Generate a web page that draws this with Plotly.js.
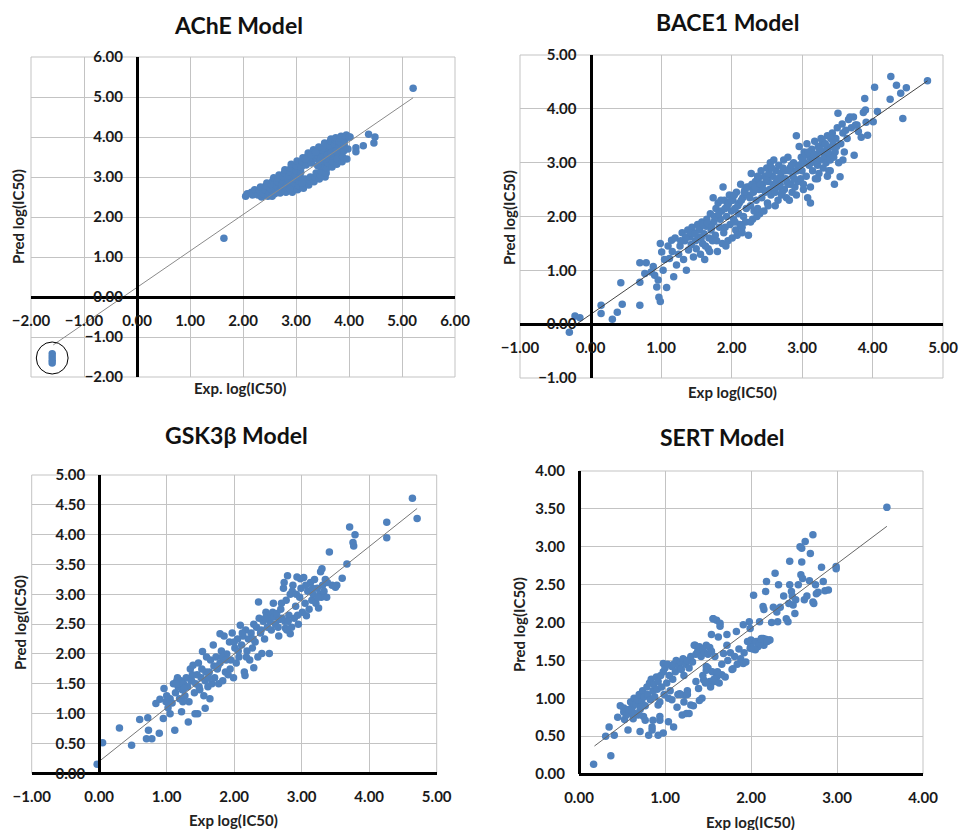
<!DOCTYPE html>
<html><head><meta charset="utf-8">
<script src="https://cdn.plot.ly/plotly-3.0.1.min.js"></script>
<style>html,body{margin:0;padding:0;background:#fff;}#chart{width:960px;height:830px;}</style>
</head><body><div id="chart"></div>
<script>
// ---------------- data ----------------
const acheExp = [
5.21, 1.64, -1.60, -1.60, -1.60, -1.60, 4.37, 4.49, 4.47, 4.27,
4.13, 4.13, 4.02, 3.95, 2.05, 2.08, 2.16, 2.18, 2.22, 2.28,
2.31, 2.33, 2.35, 2.38, 2.41, 2.43, 2.45, 2.47, 2.50, 2.52,
2.54, 2.56, 2.58, 2.55, 2.60, 2.62, 2.64, 2.65, 2.67, 2.68,
2.70, 2.72, 2.73, 2.75, 2.76, 2.78, 2.79, 2.81, 2.83, 2.84,
2.86, 2.87, 2.89, 2.90, 2.91, 2.93, 2.94, 2.96, 2.97, 2.98,
3.00, 3.01, 3.02, 3.03, 3.05, 3.06, 3.08, 3.09, 3.10, 3.12,
3.13, 3.14, 3.16, 3.17, 3.19, 3.20, 3.22, 3.23, 3.24, 3.26,
3.27, 3.29, 3.30, 3.32, 3.33, 3.34, 3.36, 3.38, 3.39, 3.40,
3.42, 3.43, 3.44, 3.46, 3.47, 3.49, 3.50, 3.52, 3.53, 3.54,
3.55, 3.57, 3.58, 3.60, 3.61, 3.62, 3.64, 3.65, 3.66, 3.68,
3.69, 3.70, 3.72, 3.73, 3.74, 3.75, 3.77, 3.78, 3.80, 3.81,
3.82, 3.84, 3.85, 3.87, 3.88, 3.90, 3.91, 3.92, 3.94, 3.96,
3.98, 4.00, 2.66, 2.88, 3.11, 3.18, 3.28, 3.37, 3.48, 3.56,
3.63, 3.71, 3.41, 3.45, 3.51, 3.59, 3.66, 3.76];
const achePred = [
5.22, 1.47, -1.42, -1.50, -1.58, -1.65, 4.07, 4.00, 3.85, 3.78,
3.73, 3.63, 4.00, 4.05, 2.52, 2.58, 2.62, 2.55, 2.68, 2.55,
2.66, 2.75, 2.50, 2.58, 2.68, 2.78, 2.85, 2.52, 2.60, 2.70,
2.80, 2.90, 2.98, 2.52, 2.58, 2.68, 2.78, 2.88, 2.97, 3.05,
2.60, 2.70, 2.80, 2.90, 3.00, 3.10, 3.18, 2.62, 2.72, 2.82,
2.92, 3.02, 3.12, 3.22, 3.32, 2.62, 2.72, 2.82, 2.95, 3.05,
3.15, 3.28, 3.40, 2.68, 2.78, 2.90, 3.00, 3.12, 3.25, 3.38,
3.48, 2.72, 2.85, 2.95, 3.30, 3.42, 3.52, 3.60, 2.80, 2.90,
3.00, 3.35, 3.48, 3.58, 3.68, 2.88, 3.00, 3.10, 3.45, 3.55,
3.65, 3.75, 2.95, 3.05, 3.15, 3.28, 3.40, 3.60, 3.72, 3.85,
3.00, 3.10, 3.22, 3.35, 3.50, 3.65, 3.78, 3.90, 3.95, 3.25,
3.38, 3.52, 3.68, 3.82, 3.92, 3.98, 3.32, 3.45, 3.60, 3.75,
3.88, 3.97, 4.02, 3.38, 3.50, 3.65, 3.80, 3.92, 4.02, 3.45,
3.70, 4.00, 2.62, 2.70, 2.85, 3.45, 3.55, 3.62, 3.50, 3.45,
3.58, 3.62, 3.28, 3.40, 3.50, 3.55, 3.60, 3.65];
const acheFitX = [-1.58, 5.21];
const acheFitCoef = [0.91, 0.24];

const baceExp = [
-0.30, -0.22, -0.15, 0.15, 0.15, 0.31, 0.38, 0.43, 0.45, 0.70,
0.70, 0.70, 0.79, 0.77, 0.86, 0.89, 0.91, 0.96, 0.94, 0.97,
0.99, 0.99, 1.01, 1.03, 1.08, 1.18, 1.12, 1.15, 1.20, 1.22,
1.25, 1.27, 1.30, 1.32, 1.34, 1.36, 1.38, 1.39, 1.41, 1.43,
1.44, 1.46, 1.47, 1.49, 1.50, 1.52, 1.53, 1.55, 1.56, 1.58,
1.59, 1.61, 1.62, 1.64, 1.65, 1.67, 1.68, 1.70, 1.71, 1.73,
1.74, 1.75, 1.77, 1.78, 1.80, 1.81, 1.83, 1.84, 1.86, 1.87,
1.88, 1.89, 1.90, 1.92, 1.93, 1.94, 1.95, 1.97, 1.98, 2.00,
2.01, 2.02, 2.03, 2.05, 2.06, 2.07, 2.08, 2.10, 2.11, 2.12,
2.13, 2.15, 2.16, 2.17, 2.19, 2.20, 2.21, 2.23, 2.24, 2.25,
2.27, 2.28, 2.30, 2.31, 2.32, 2.34, 2.35, 2.36, 2.38, 2.39,
2.40, 2.42, 2.43, 2.44, 2.46, 2.47, 2.48, 2.50, 2.51, 2.52,
2.54, 2.55, 2.56, 2.58, 2.59, 2.60, 2.62, 2.63, 2.64, 2.66,
2.67, 2.68, 2.70, 2.71, 2.72, 2.74, 2.75, 2.76, 2.78, 2.79,
2.80, 2.82, 2.83, 2.84, 2.86, 2.87, 2.88, 2.90, 2.91, 2.92,
2.94, 2.95, 2.96, 2.98, 2.99, 3.00, 3.02, 3.03, 3.04, 3.06,
3.07, 3.08, 3.10, 3.11, 3.12, 3.14, 3.15, 3.16, 3.18, 3.19,
3.20, 3.22, 3.23, 3.24, 3.26, 3.27, 3.28, 3.30, 3.31, 3.32,
3.34, 3.35, 3.36, 3.38, 3.39, 3.40, 3.42, 3.43, 3.44, 3.46,
3.47, 3.48, 3.50, 3.51, 3.52, 3.54, 3.55, 3.57, 3.58, 3.60,
3.62, 3.64, 3.66, 3.68, 3.70, 3.73, 3.74, 3.76, 3.78, 3.80,
3.84, 3.87, 3.89, 3.90, 3.91, 3.93, 4.01, 4.03, 4.07, 4.25,
4.26, 4.34, 4.40, 4.43, 4.48, 4.78, 1.05, 1.10, 1.16, 1.28,
1.35, 1.42, 1.48, 1.54, 1.60, 1.66, 1.72, 1.76, 1.82, 1.85,
1.91, 1.96, 2.00, 2.04, 2.09, 2.14, 2.18, 2.22, 2.26, 2.29,
2.33, 2.37, 2.41, 2.45, 2.49, 2.53, 2.57, 2.61, 2.65, 2.69,
2.73, 2.77, 2.81, 2.85, 2.89, 2.93, 2.97, 3.01, 3.05, 3.09,
3.13, 3.17, 3.21, 3.25, 3.29, 3.33, 3.37, 3.41, 3.45, 3.49,
1.57, 1.63, 1.69, 1.79, 1.91, 2.05, 2.15, 2.27, 2.37, 2.52,
2.62, 2.72, 2.80, 2.92, 3.02, 3.12, 3.22, 3.36, 3.40, 3.58];
const bacePred = [
-0.15, 0.15, 0.12, 0.35, 0.20, 0.09, 0.22, 0.77, 0.37, 0.35,
1.14, 0.78, 1.14, 0.94, 0.97, 1.07, 0.91, 0.82, 0.69, 0.50,
0.42, 1.50, 1.34, 1.00, 0.68, 0.88, 1.22, 1.56, 1.60, 1.10,
1.30, 1.45, 1.70, 1.20, 1.55, 1.00, 1.75, 1.38, 1.62, 1.48,
1.80, 1.25, 1.70, 1.55, 1.40, 1.85, 1.62, 1.75, 1.30, 1.90,
1.50, 1.68, 1.20, 1.82, 1.95, 1.40, 1.60, 2.05, 1.75, 1.55,
2.35, 1.90, 1.65, 2.15, 1.35, 2.25, 1.80, 1.95, 2.10, 1.50,
2.55, 1.70, 2.30, 1.45, 2.00, 2.20, 1.55, 2.40, 1.85, 2.10,
1.60, 2.30, 1.95, 2.15, 1.75, 2.45, 1.65, 2.05, 2.25, 1.85,
2.60, 1.70, 2.35, 2.00, 2.50, 1.90, 2.15, 2.40, 1.65, 2.55,
2.20, 2.80, 1.95, 2.45, 2.10, 2.65, 2.30, 2.00, 2.70, 2.50,
2.05, 2.85, 2.35, 2.60, 2.10, 2.75, 2.45, 2.90, 2.25, 2.65,
2.50, 3.00, 2.40, 2.75, 2.60, 3.05, 2.45, 2.85, 2.65, 2.30,
2.95, 2.55, 2.80, 2.40, 2.70, 3.05, 2.50, 2.85, 2.35, 2.65,
3.10, 2.30, 2.90, 2.60, 2.45, 2.75, 3.00, 2.55, 2.85, 3.50,
2.65, 2.95, 3.30, 2.70, 3.10, 2.85, 2.50, 3.20, 3.00, 2.75,
3.35, 2.35, 2.95, 3.10, 2.25, 3.25, 2.85, 3.05, 3.40, 2.70,
3.15, 2.95, 3.30, 2.80, 3.05, 3.45, 3.20, 2.90, 3.35, 3.10,
3.00, 3.25, 3.50, 2.85, 3.15, 3.05, 3.30, 3.55, 3.40, 2.60,
3.20, 3.45, 3.65, 3.92, 3.00, 2.74, 3.35, 3.72, 3.55, 3.20,
3.60, 3.45, 3.80, 3.85, 3.65, 3.85, 3.14, 3.70, 3.70, 3.58,
3.47, 3.93, 4.19, 3.98, 3.75, 3.51, 3.76, 4.40, 3.95, 4.18,
4.60, 4.44, 4.29, 3.82, 4.39, 4.52, 1.20, 1.45, 1.35, 1.55,
1.62, 1.70, 1.68, 1.80, 1.85, 1.88, 1.80, 2.00, 2.05, 2.30,
2.15, 2.25, 2.30, 2.40, 2.20, 2.30, 2.45, 2.55, 2.35, 2.60,
2.55, 2.75, 2.60, 2.50, 2.70, 2.80, 2.90, 2.55, 2.70, 2.60,
2.90, 2.70, 2.85, 2.95, 2.70, 2.85, 2.95, 3.05, 3.15, 3.20,
3.00, 3.15, 3.05, 3.25, 3.40, 3.35, 3.20, 3.45, 3.10, 3.30,
1.60, 1.45, 1.35, 1.55, 1.80, 1.90, 1.80, 1.90, 2.15, 2.20,
2.20, 2.45, 2.60, 2.40, 2.60, 2.55, 2.70, 2.75, 2.85, 3.05];
const baceFitX = [-0.20, 4.78];
const baceFitCoef = [0.908, 0.18];

const gskExp = [
4.64, 4.71, 4.26, 4.26, 3.71, 3.79, 3.76, 3.77, 3.41, 3.67,
3.60, 3.52, 3.30, 3.28, 3.25, 3.07, 2.83, 2.76, 2.36, 2.52,
2.41, 2.29, 2.16, 1.79, 1.64, 1.57, 1.46, 1.42, 1.32, 1.22,
1.12, 1.05, 0.96, 0.90, 0.84, 0.95, 0.89, 0.73, 0.60, 0.70,
0.78, 0.48, 0.30, 0.05, -0.03, 0.72, 0.99, 1.02, 1.05, 1.08,
1.10, 1.13, 1.15, 1.17, 1.19, 1.21, 1.23, 1.25, 1.27, 1.29,
1.31, 1.33, 1.35, 1.37, 1.39, 1.41, 1.43, 1.45, 1.47, 1.49,
1.51, 1.53, 1.55, 1.57, 1.59, 1.61, 1.63, 1.65, 1.67, 1.69,
1.71, 1.73, 1.75, 1.77, 1.79, 1.81, 1.83, 1.85, 1.87, 1.89,
1.91, 1.93, 1.95, 1.97, 1.99, 2.01, 2.03, 2.05, 2.07, 2.09,
2.11, 2.13, 2.15, 2.17, 2.19, 2.21, 2.23, 2.25, 2.27, 2.29,
2.31, 2.33, 2.35, 2.37, 2.39, 2.43, 2.45, 2.47, 2.49, 2.51,
2.53, 2.55, 2.57, 2.59, 2.61, 2.63, 2.65, 2.67, 2.69, 2.71,
2.73, 2.75, 2.77, 2.79, 2.81, 2.83, 2.85, 2.87, 2.89, 2.91,
2.93, 2.95, 2.97, 2.99, 3.01, 3.03, 3.05, 3.09, 3.11, 3.13,
3.15, 3.17, 3.19, 3.21, 3.23, 3.27, 3.29, 3.31, 3.33, 3.35,
3.37, 3.45, 3.50, 3.38, 2.78, 2.74, 2.86, 2.92, 2.98, 2.70,
1.16, 1.24, 1.36, 1.48, 1.58, 1.70, 1.82, 1.94, 2.06, 2.18,
2.28, 2.40, 2.46, 2.58, 2.66, 2.80, 2.94, 3.06, 3.16, 3.24,
1.00, 1.14, 1.26, 1.38, 1.52, 1.62, 1.76, 1.88, 2.00, 2.12];
const gskPred = [
4.61, 4.27, 4.21, 3.95, 4.13, 4.00, 3.87, 3.81, 3.71, 3.51,
3.27, 3.15, 3.43, 3.38, 2.77, 2.64, 2.34, 2.43, 2.87, 2.01,
2.01, 1.77, 1.64, 2.34, 1.25, 1.09, 1.00, 1.00, 0.86, 1.03,
0.72, 1.00, 1.42, 1.24, 1.17, 0.92, 0.67, 0.72, 0.90, 0.58,
0.58, 0.47, 0.76, 0.51, 0.15, 0.93, 1.20, 1.10, 1.25, 1.18,
1.50, 1.35, 1.55, 1.45, 1.25, 1.55, 1.40, 1.50, 1.30, 1.60,
1.45, 1.20, 1.75, 1.55, 1.81, 1.35, 1.50, 1.65, 1.85, 1.40,
1.60, 2.04, 1.30, 1.55, 1.95, 1.45, 1.70, 1.90, 1.50, 2.15,
1.60, 1.95, 1.75, 1.50, 1.85, 2.05, 1.55, 2.30, 1.70, 2.00,
1.65, 2.20, 1.90, 2.35, 1.60, 2.10, 1.85, 2.25, 1.95, 2.48,
2.15, 2.30, 1.70, 2.40, 2.05, 2.25, 1.90, 2.35, 2.10, 2.50,
2.20, 2.45, 1.95, 2.60, 2.35, 2.55, 2.25, 2.70, 2.45, 2.65,
2.55, 2.40, 2.70, 2.62, 2.50, 2.68, 2.45, 2.58, 2.75, 2.60,
3.10, 2.55, 2.90, 3.31, 2.65, 3.00, 2.45, 3.15, 2.60, 2.80,
3.29, 2.50, 2.95, 3.10, 2.70, 3.28, 2.85, 3.05, 2.75, 3.20,
2.90, 3.00, 3.25, 2.85, 3.10, 3.00, 2.95, 3.15, 3.05, 3.25,
2.95, 3.15, 3.12, 3.20, 2.40, 3.20, 3.05, 3.00, 3.26, 2.85,
1.60, 1.20, 1.55, 1.45, 1.70, 1.80, 1.95, 1.75, 2.05, 1.95,
2.25, 2.40, 2.60, 2.85, 2.30, 2.55, 2.65, 3.15, 3.10, 2.95,
1.30, 1.50, 1.42, 1.65, 1.75, 1.60, 1.80, 1.90, 2.20, 2.35];
const gskFitX = [0.00, 4.71];
const gskFitCoef = [0.90, 0.20];

const sertExp = [
3.58, 2.72, 2.63, 2.57, 2.59, 2.69, 2.45, 2.59, 2.99, 2.99,
2.82, 2.28, 2.90, 2.58, 2.60, 2.45, 2.32, 2.18, 2.17, 2.03,
2.84, 2.76, 2.72, 2.73, 2.62, 2.49, 2.47, 2.51, 2.43, 2.30,
2.31, 2.14, 2.15, 1.98, 1.99, 2.10, 2.21, 2.14, 2.15, 1.99,
2.05, 1.91, 1.83, 1.72, 1.56, 1.60, 1.64, 1.64, 1.54, 1.62,
1.35, 1.39, 1.48, 0.98, 1.58, 1.39, 0.17, 0.37, 0.35, 0.31,
0.41, 0.57, 0.52, 0.52, 0.61, 0.63, 0.71, 0.81, 0.85, 0.85,
0.92, 0.98, 0.86, 0.94, 0.94, 1.04, 0.75, 0.77, 0.92, 1.17,
1.23, 1.25, 1.30, 1.43, 1.45, 1.52, 1.60, 1.66, 1.48, 1.48,
1.79, 1.91, 2.00, 2.00, 2.12, 2.17, 2.22, 1.68, 1.72, 1.20,
0.60, 0.62, 0.64, 0.66, 0.68, 0.70, 0.71, 0.73, 0.74, 0.76,
0.77, 0.79, 0.80, 0.82, 0.83, 0.84, 0.86, 0.87, 0.88, 0.90,
0.91, 0.92, 0.94, 0.95, 0.96, 0.98, 0.99, 1.00, 1.02, 1.03,
1.05, 1.06, 1.08, 1.09, 1.10, 1.12, 1.13, 1.15, 1.16, 1.18,
1.19, 1.21, 1.22, 1.24, 1.26, 1.28, 1.30, 1.32, 1.34, 1.36,
1.38, 1.40, 1.42, 1.44, 1.46, 1.50, 1.52, 1.54, 1.56, 1.58,
1.04, 1.08, 1.14, 1.18, 1.22, 1.26, 1.28, 1.33, 1.36, 1.40,
1.44, 1.47, 1.50, 1.53, 1.55, 1.57, 1.61, 1.63, 1.66, 1.70,
1.73, 1.76, 1.78, 1.81, 1.84, 1.86, 1.88, 1.92, 1.94, 1.96,
2.02, 2.06, 2.08, 2.10, 2.12, 2.19, 2.24, 2.26, 2.34, 2.38,
2.41, 2.44, 2.48, 2.52, 2.55, 2.65, 2.68, 2.75, 2.78, 2.86,
0.45, 0.48, 0.53, 0.55, 0.58, 0.65, 0.69, 0.72, 1.10, 1.26];
const sertPred = [
3.52, 3.16, 3.07, 3.00, 2.98, 2.91, 2.81, 2.80, 2.74, 2.71,
2.73, 2.65, 2.43, 2.63, 2.58, 2.50, 2.50, 2.54, 2.41, 2.36,
2.54, 2.38, 2.27, 2.25, 2.30, 2.23, 2.41, 2.12, 2.01, 2.14,
2.01, 2.21, 2.17, 2.01, 1.92, 2.01, 1.77, 1.79, 1.70, 1.66,
1.64, 1.97, 1.88, 1.84, 2.05, 2.03, 1.99, 1.95, 1.84, 1.81,
1.70, 1.66, 1.70, 1.46, 1.22, 1.13, 0.13, 0.24, 0.62, 0.50,
0.51, 0.58, 0.87, 0.82, 0.80, 0.73, 0.56, 0.51, 0.58, 0.62,
0.51, 0.54, 0.71, 0.71, 0.76, 0.69, 0.76, 0.71, 0.91, 1.06,
1.04, 0.80, 0.91, 1.00, 1.24, 1.22, 1.28, 1.31, 1.37, 1.42,
1.39, 1.46, 1.70, 1.77, 1.79, 1.78, 1.77, 1.59, 1.70, 0.78,
0.95, 0.88, 1.00, 0.92, 0.98, 1.05, 0.85, 0.95, 1.10, 1.02,
0.90, 1.15, 1.05, 1.20, 0.98, 1.25, 1.10, 1.18, 1.02, 1.28,
1.12, 1.22, 0.95, 1.30, 1.15, 1.35, 1.05, 1.40, 1.20, 1.45,
1.30, 1.10, 1.42, 1.25, 1.45, 1.35, 1.50, 1.05, 1.42, 1.48,
1.38, 1.52, 1.30, 1.45, 1.50, 1.40, 1.55, 1.48, 1.70, 1.58,
1.62, 1.68, 1.55, 1.65, 1.60, 1.58, 1.67, 1.62, 2.05, 1.55,
1.00, 0.98, 0.88, 1.05, 0.95, 1.10, 0.80, 0.90, 1.22, 0.97,
1.30, 1.20, 1.40, 1.15, 1.35, 1.25, 1.35, 1.20, 1.45, 1.28,
1.50, 1.60, 1.38, 1.55, 1.45, 1.65, 1.52, 1.60, 1.48, 1.75,
1.65, 1.75, 1.68, 1.72, 1.78, 1.75, 2.00, 2.20, 2.20, 2.35,
2.05, 2.25, 2.35, 2.30, 2.50, 2.35, 2.55, 2.50, 2.40, 2.42,
0.75, 0.90, 0.72, 0.78, 0.85, 0.80, 0.78, 0.88, 0.62, 1.05];
const sertFitX = [0.18, 3.58];
const sertFitCoef = [0.853, 0.216];

const panelTitles = ['AChE Model', 'BACE1 Model', 'GSK3β Model', 'SERT Model'];
const expLabels = ['Exp. log(IC50)', 'Exp log(IC50)', 'Exp log(IC50)', 'Exp log(IC50)'];
const predLabel = 'Pred log(IC50)';

// ---------------- layout ----------------
const W = 960, H = 830;
const fx = p => p / W, fy = p => 1 - p / H;
const FONT = 'Lato, "Open Sans", "DejaVu Sans", sans-serif';
const BLUE = '#4f81bd';

const panels = [
  {exp: acheExp, pred: achePred, fx0: acheFitX, coef: acheFitCoef, xr: [-2, 6], yr: [-2, 6], ydt: 1,
   box: [31, 57, 455, 377], title: [238, 25], xt: [240, 388], yt: [18, 217], line: '#8a8a8a'},
  {exp: baceExp, pred: bacePred, fx0: baceFitX, coef: baceFitCoef, xr: [-1, 5], yr: [-1, 5], ydt: 1,
   box: [520, 55, 943, 378], title: [727, 22], xt: [732, 392], yt: [509, 217], line: '#444'},
  {exp: gskExp, pred: gskPred, fx0: gskFitX, coef: gskFitCoef, xr: [-1, 5], yr: [0, 5], ydt: 0.5,
   box: [31.7, 475, 436.7, 773.3], title: [236, 435], xt: [233, 820], yt: [20, 623], line: '#777'},
  {exp: sertExp, pred: sertPred, fx0: sertFitX, coef: sertFitCoef, xr: [0, 4], yr: [0, 4], ydt: 0.5,
   box: [579, 471, 923, 774], title: [722, 437], xt: [750, 822], yt: [519, 625], line: '#666'}
];

const traces = [];
const layout = {
  width: W, height: H, margin: {l: 0, r: 0, t: 0, b: 0},
  paper_bgcolor: '#fff', plot_bgcolor: '#fff', showlegend: false,
  font: {family: FONT, color: '#000'},
  annotations: [], shapes: []
};

panels.forEach((p, i) => {
  const s = i === 0 ? '' : String(i + 1);
  const xd = [fx(p.box[0]), fx(p.box[2])];
  const yd = [fy(p.box[3]), fy(p.box[1])];
  const yAxisPos = xd[0] + (0 - p.xr[0]) / (p.xr[1] - p.xr[0]) * (xd[1] - xd[0]);
  const xAxisPos = yd[0] + (0 - p.yr[0]) / (p.yr[1] - p.yr[0]) * (yd[1] - yd[0]);
  const common = {
    showgrid: true, gridcolor: '#c3c3c3', gridwidth: 1,
    showline: true, linecolor: '#000', linewidth: 3, zeroline: false,
    ticks: '', tickformat: '.2f', anchor: 'free', fixedrange: true,
    tickfont: {family: FONT, size: 15, color: '#1a1a1a', weight: 'bold'}
  };
  layout['xaxis' + s] = Object.assign({}, common, {
    domain: xd, range: p.xr, dtick: 1, tick0: 0, position: xAxisPos, ticklabelstandoff: 9
  });
  layout['yaxis' + s] = Object.assign({}, common, {
    domain: yd, range: p.yr, dtick: p.ydt, tick0: 0, position: yAxisPos, ticklabelstandoff: 10
  });
  traces.push({
    type: 'scatter', mode: 'markers', x: p.exp, y: p.pred, xaxis: 'x' + s, yaxis: 'y' + s,
    marker: {color: BLUE, size: 7.5}, cliponaxis: false, hoverinfo: 'x+y'
  });
  traces.push({
    type: 'scatter', mode: 'lines', x: p.fx0, y: p.fx0.map(v => p.coef[0] * v + p.coef[1]),
    xaxis: 'x' + s, yaxis: 'y' + s, line: {color: p.line, width: 1}, hoverinfo: 'skip'
  });
  layout.shapes.push({type: 'rect', xref: 'x' + s + ' domain', yref: 'y' + s + ' domain',
    x0: 0, x1: 1, y0: 0, y1: 1, line: {color: '#c3c3c3', width: 1}, layer: 'below'});
  layout.annotations.push({text: panelTitles[i], xref: 'paper', yref: 'paper', x: fx(p.title[0]), y: fy(p.title[1]),
    xanchor: 'center', yanchor: 'middle', showarrow: false, font: {family: FONT, size: 23, weight: 'bold', color: '#111'}});
  layout.annotations.push({text: expLabels[i], xref: 'paper', yref: 'paper', x: fx(p.xt[0]), y: fy(p.xt[1]),
    xanchor: 'center', yanchor: 'middle', showarrow: false, font: {family: FONT, size: 15, weight: 'bold', color: '#222'}});
  layout.annotations.push({text: predLabel, xref: 'paper', yref: 'paper', x: fx(p.yt[0]), y: fy(p.yt[1]),
    xanchor: 'center', yanchor: 'middle', textangle: -90, showarrow: false, font: {family: FONT, size: 15, weight: 'bold', color: '#222'}});
});

// highlight circle around the outlying AChE compounds
layout.shapes.push({type: 'circle', xref: 'x', yref: 'y', x0: -1.90, x1: -1.30, y0: -1.925, y1: -1.125,
  line: {color: '#000', width: 1}});

Plotly.newPlot('chart', traces, layout, {displayModeBar: false, staticPlot: true});
</script>
</body></html>
